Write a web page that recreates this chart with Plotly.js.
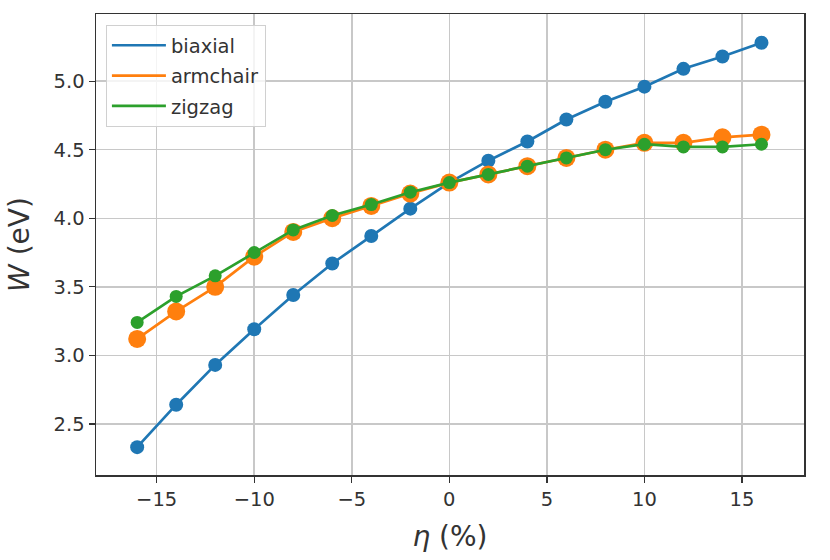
<!DOCTYPE html>
<html>
<head>
<meta charset="utf-8">
<script src="https://cdn.plot.ly/plotly-3.0.1.min.js"></script>
<style>
  html, body { margin: 0; padding: 0; background: #fff; }
  #plot { width: 830px; height: 560px; }
</style>
</head>
<body>
<div id="plot"></div>
<script>
// strain values (%)
const eta = [-16, -14, -12, -10, -8, -6, -4, -2, 0, 2, 4, 6, 8, 10, 12, 14, 16];

// work function W (eV)
const biaxial  = [2.33, 2.64, 2.93, 3.19, 3.44, 3.67, 3.87, 4.07, 4.26, 4.42, 4.56, 4.72, 4.85, 4.96, 5.09, 5.18, 5.28];
const armchair = [3.12, 3.32, 3.50, 3.72, 3.90, 4.00, 4.09, 4.18, 4.26, 4.32, 4.38, 4.44, 4.50, 4.55, 4.55, 4.59, 4.61];
const zigzag   = [3.24, 3.43, 3.58, 3.75, 3.915, 4.02, 4.10, 4.19, 4.26, 4.32, 4.38, 4.44, 4.50, 4.54, 4.52, 4.52, 4.54];

const names  = ["biaxial", "armchair", "zigzag"];
const series = [biaxial, armchair, zigzag];
const colors = ["#1f77b4", "#ff7f0e", "#2ca02c"];
const msizes = [14, 18, 13];

let data = [];
for (let i = 0; i < series.length; i++) {
  // line (legend entry)
  data.push({
    x: eta,
    y: series[i],
    name: names[i],
    legendgroup: names[i],
    mode: "lines",
    type: "scatter",
    line: { color: colors[i], width: 2.7 },
  });
  // markers, no legend entry
  data.push({
    x: eta,
    y: series[i],
    name: names[i],
    legendgroup: names[i],
    showlegend: false,
    mode: "markers",
    type: "scatter",
    marker: { color: colors[i], size: msizes[i] },
  });
}

const font = { family: "DejaVu Sans, sans-serif", size: 19.5, color: "#333" };
const titleFont = { family: "DejaVu Sans, sans-serif", size: 28, color: "#333" };

const layout = {
  width: 830,
  height: 560,
  margin: { l: 96, r: 26, t: 14, b: 85 },
  paper_bgcolor: "#fff",
  plot_bgcolor: "#fff",
  font: font,
  showlegend: true,
  legend: {
    x: 0.014,
    y: 0.976,
    xanchor: "left",
    yanchor: "top",
    bgcolor: "rgba(255,255,255,0.8)",
    bordercolor: "#d0d0d0",
    borderwidth: 1,
    tracegroupgap: 2,
    itemwidth: 54,
    font: font,
  },
  xaxis: {
    range: [-18.11, 18.18],
    tickmode: "array",
    tickvals: [-15, -10, -5, 0, 5, 10, 15],
    showgrid: true,
    gridcolor: "#c8c8c8",
    gridwidth: 1.5,
    zeroline: false,
    showline: true,
    mirror: true,
    linecolor: "#333",
    linewidth: 1.5,
    ticks: "outside",
    ticklen: 6,
    tickwidth: 1.3,
    tickcolor: "#333",
    tickfont: font,
    title: { text: "<i>η</i> (%)", font: titleFont, standoff: 16 },
  },
  yaxis: {
    range: [2.127, 5.49],
    tick0: 2.5,
    dtick: 0.5,
    tickformat: ".1f",
    showgrid: true,
    gridcolor: "#c8c8c8",
    gridwidth: 1.5,
    zeroline: false,
    showline: true,
    mirror: true,
    linecolor: "#333",
    linewidth: 1.5,
    ticks: "outside",
    ticklen: 6,
    tickwidth: 1.3,
    tickcolor: "#333",
    tickfont: font,
    title: { text: "<i>W</i> (eV)", font: titleFont, standoff: 16 },
  },
};

Plotly.newPlot("plot", data, layout, { displayModeBar: false, staticPlot: true });
</script>
</body>
</html>
